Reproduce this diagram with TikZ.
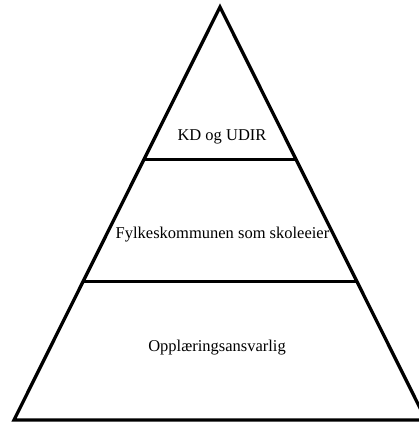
\documentclass[tikz,border=0pt]{standalone}
\usepackage{fontspec}
\setmainfont{Liberation Serif}
\usetikzlibrary{calc}
\tikzset{
  edge/.style={line width=3.3pt,black},
  level/.style={font=\fontsize{16.5}{18}\selectfont,anchor=base,inner sep=0pt},
}

\begin{document}
\begin{tikzpicture}[x=1pt,y=-1pt]
  \useasboundingbox (0,0) rectangle (419,423);
  \coordinate (top) at (220,7);
  \coordinate (bl) at (14,420);
  \coordinate (br) at (426,420);
  \draw[edge] (top) -- (bl) -- (br) -- cycle;
  % cuts between the levels
  \coordinate (l1) at ($(top)!0.37!(bl)$);
  \coordinate (r1) at ($(top)!0.37!(br)$);
  \coordinate (l2) at ($(top)!0.664!(bl)$);
  \coordinate (r2) at ($(top)!0.664!(br)$);
  \draw[edge] (l1) -- (r1);
  \draw[edge] (l2) -- (r2);
  \node[level] (kd) at (222,140) {KD og UDIR};
  \node[level] (fylke) at (222.5,238.5) {Fylkeskommunen som skoleeier};
  \node[level] (ansv) at (217,351) {Opplæringsansvarlig};
\end{tikzpicture}
\end{document}
